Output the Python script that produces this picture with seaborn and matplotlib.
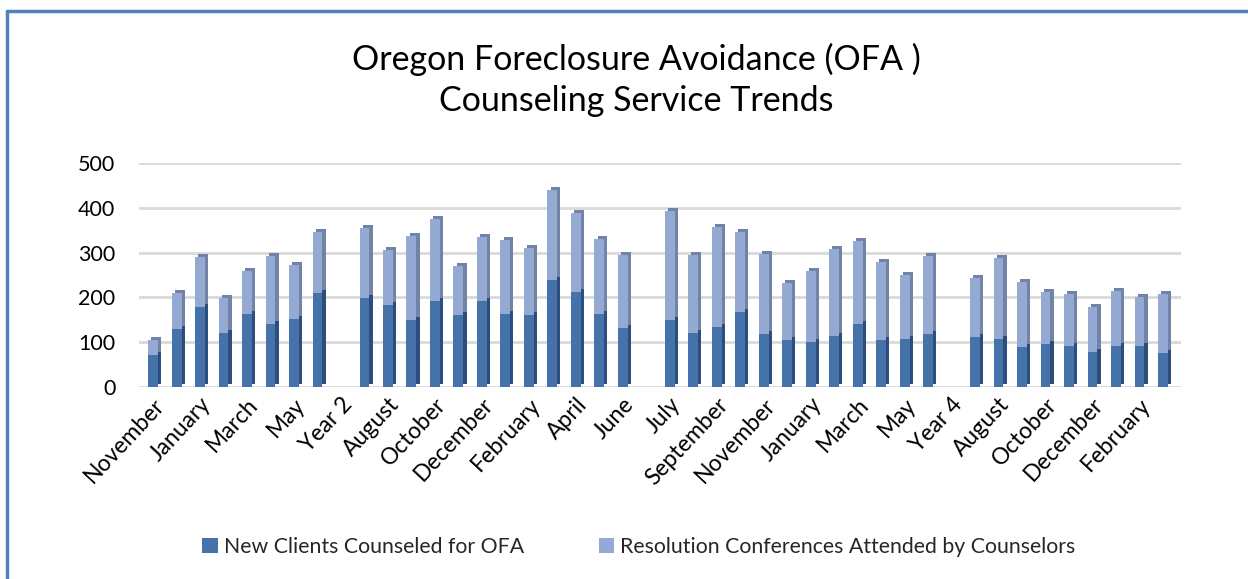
import numpy as np
import pandas as pd
import matplotlib
matplotlib.use("Agg")
import matplotlib.pyplot as plt
import matplotlib.transforms as mtransforms
from matplotlib.patches import Patch
from matplotlib.lines import Line2D
import seaborn as sns

# ---------------- data ----------------
categories = [
    "November", "December", "January", "February", "March", "April", "May", "June",
    "Year 2",
    "July", "August", "September", "October", "November", "December", "January",
    "February", "March", "April", "May", "June",
    "Year 3",
    "July", "August", "September", "October", "November", "December", "January",
    "February", "March", "April", "May", "June",
    "Year 4",
    "July", "August", "September", "October", "November", "December", "January",
    "February", "March",
]
new_clients = [
    72, 129, 178, 121, 163, 141, 152, 210,
    np.nan,
    199, 184, 149, 193, 160, 193, 163, 160, 239, 213, 163, 131,
    np.nan,
    149, 121, 134, 168, 119, 104, 101, 114, 140, 105, 108, 118,
    np.nan,
    112, 107, 90, 96, 92, 78, 92, 92, 76,
]
totals = [
    104, 209, 290, 198, 260, 292, 273, 346,
    np.nan,
    354, 305, 336, 375, 269, 335, 329, 311, 440, 388, 330, 295,
    np.nan,
    392, 295, 357, 347, 296, 233, 260, 308, 326, 280, 250, 293,
    np.nan,
    243, 287, 235, 213, 207, 179, 214, 202, 207,
]
series_names = ["New Clients Counseled for OFA",
                "Resolution Conferences Attended by Counselors"]
title_text = "Oregon Foreclosure Avoidance (OFA )\nCounseling Service Trends"
y_ticks = [0, 100, 200, 300, 400, 500]

df = pd.DataFrame({
    "pos": np.arange(len(categories)),
    "category": categories,
    "new": new_clients,
    "total": totals,
})

# ---------------- style ----------------
sns.set_theme(style="white")
plt.rcParams["font.family"] = ["Lato", "DejaVu Sans"]

dark = "#4572A9"
dark_side = "#2C4E7C"
light = "#95AAD2"
light_side = "#7184A8"
grid_col = "#D9D9D9"

W, H, DPI = 1248, 579, 100
fig = plt.figure(figsize=(W / DPI, H / DPI), dpi=DPI)
ax = fig.add_axes([139 / W, 1 - 387 / H, (1181 - 139) / W, (387 - 163) / H])

bar_w = 0.42
common = dict(x="pos", native_scale=True, width=bar_w, ax=ax,
              errorbar=None, linewidth=0, saturation=1)

# shadow (side/top faces) first
n0 = len(ax.patches)
sns.barplot(data=df, y="total", color=light_side, **common)
sns.barplot(data=df, y="new", color=dark_side, **common)
shift = mtransforms.ScaledTranslation(3.2 / DPI, 3.0 / DPI, fig.dpi_scale_trans)
for p in ax.patches[n0:]:
    p.set_transform(ax.transData + shift)
# front faces
sns.barplot(data=df, y="total", color=light, **common)
sns.barplot(data=df, y="new", color=dark, **common)

ax.set_xlim(-0.6, 43.77)
ax.set_ylim(0, 500)
ax.set_yticks(y_ticks)
ax.set_yticklabels([str(v) for v in y_ticks], fontsize=15.5, color="#000000")
ax.yaxis.grid(True, color=grid_col, linewidth=2.0)
ax.set_axisbelow(True)
for s in ax.spines.values():
    s.set_visible(False)
ax.tick_params(axis="y", length=0, pad=17)
ax.tick_params(axis="x", length=0, pad=5)

ticks_pos = df["pos"].values[::2]
ax.set_xticks(ticks_pos)
ax.set_xticklabels(df["category"].values[::2], rotation=47, ha="right",
                   rotation_mode="anchor", fontsize=16.5, color="#000000")
ax.set_xlabel("")
ax.set_ylabel("")

# title
fig.text(0.51, 1 - 80 / H, title_text, ha="center", va="center",
         fontsize=24.5, linespacing=1.36, color="#000000")

# legend
handles = [Patch(facecolor=dark, edgecolor="none"),
           Patch(facecolor=light, edgecolor="none")]
fig.legend(handles, series_names, loc="center", bbox_to_anchor=(0.512, 1 - 547 / H),
           ncol=2, frameon=False, fontsize=15.3, handlelength=0.72, handleheight=0.72,
           handletextpad=0.3, columnspacing=3.5)

# blue frame at top-left
fig.add_artist(Line2D([7 / W, 7 / W], [0, 1 - 11 / H], transform=fig.transFigure,
                      color="#4F81BD", linewidth=2.5))
fig.add_artist(Line2D([7 / W, 1], [1 - 11 / H, 1 - 11 / H], transform=fig.transFigure,
                      color="#4F81BD", linewidth=2.5))

fig.savefig("out.png", dpi=DPI, facecolor="white")
